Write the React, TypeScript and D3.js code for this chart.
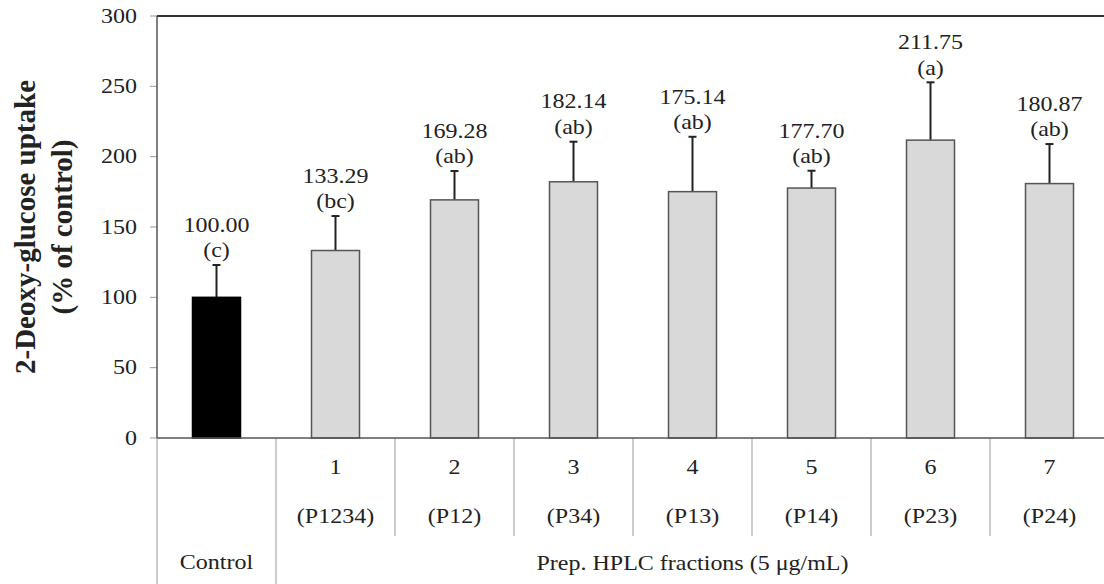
import React from "react";
import * as d3 from "d3";

// Fractions and their measured uptake (% of control) with SD
const categories = ["Control", "1", "2", "3", "4", "5", "6", "7"];
const fractionCodes = ["", "(P1234)", "(P12)", "(P34)", "(P13)", "(P14)", "(P23)", "(P24)"];
const means = [100.0, 133.29, 169.28, 182.14, 175.14, 177.7, 211.75, 180.87];
const sds = [23.0, 24.5, 20.5, 28.5, 39.0, 12.3, 41.1, 28.1];
const groups = ["(c)", "(bc)", "(ab)", "(ab)", "(ab)", "(ab)", "(a)", "(ab)"];
const yTicks = [0, 50, 100, 150, 200, 250, 300];

const W = 1104;
const H = 584;
const left = 157;
const right = 1109;
const top = 16;
const bottom = 438;
const barW = 48;
const SX = 1.2; // horizontal glyph stretch of the serif labels

const font = '"Liberation Serif", "Times New Roman", Times, "DejaVu Serif", serif';
const ink = "#222";

function Label({ x, y, text, size = 20, anchor = "middle" }: { x: number; y: number; text: string; size?: number; anchor?: string }) {
  return (
    <text
      transform={`translate(${x},${y}) scale(${SX},1)`}
      textAnchor={anchor as any}
      dominantBaseline="central"
      style={{ fontFamily: font, fontSize: size }}
      fill={ink}
    >
      {text}
    </text>
  );
}

export default function App() {
  const x = d3.scaleBand<string>().domain(categories).range([left, right]).paddingInner(0).paddingOuter(0);
  const y = d3.scaleLinear().domain([0, 300]).range([bottom, top]);
  const bw = x.bandwidth();
  const midY = (top + bottom) / 2;

  return (
    <svg width={W} height={H} style={{ position: "absolute", left: 0, top: 0, background: "#fff", fontFamily: font }}>
      {/* y axis title */}
      <g style={{ fontFamily: font, fontWeight: "bold", fontSize: 29 }} fill={ink} textAnchor="middle">
        <text transform={`translate(35,${midY}) rotate(-90)`}>2-Deoxy-glucose uptake</text>
        <text transform={`translate(72,${midY}) rotate(-90)`}>(% of control)</text>
      </g>

      {/* y ticks */}
      {yTicks.map((t) => (
        <g key={t}>
          <line x1={150} x2={left} y1={y(t)} y2={y(t)} stroke="#999" strokeWidth={1} />
          <Label x={137} y={y(t)} text={String(t)} anchor="end" />
        </g>
      ))}

      {/* table grid under the plot */}
      <line x1={left} x2={left} y1={bottom} y2={H} stroke="#aaa" strokeWidth={1.2} />
      {categories.slice(1).map((c, i) => (
        <line
          key={c}
          x1={x(c)!}
          x2={x(c)!}
          y1={bottom}
          y2={i === 0 ? H : 536}
          stroke="#aaa"
          strokeWidth={1.2}
        />
      ))}

      {/* bars with SD whiskers and significance letters */}
      {categories.map((c, i) => {
        const cx = x(c)! + bw / 2;
        const errTop = y(means[i] + sds[i]);
        return (
          <g key={c}>
            <line x1={cx} x2={cx} y1={y(means[i])} y2={errTop} stroke="#222" strokeWidth={2} />
            <line x1={cx - 4} x2={cx + 4} y1={errTop} y2={errTop} stroke="#222" strokeWidth={2} />
            <rect
              x={cx - barW / 2}
              y={y(means[i])}
              width={barW}
              height={y(0) - y(means[i])}
              fill={i === 0 ? "#000" : "#d9d9d9"}
              stroke={i === 0 ? "#000" : "#555"}
              strokeWidth={1.5}
            />
            <Label x={cx} y={errTop - 40} text={means[i].toFixed(2)} />
            <Label x={cx} y={errTop - 14.5} text={groups[i]} />
          </g>
        );
      })}

      {/* plot frame */}
      <line x1={left} x2={left} y1={top} y2={bottom} stroke="#555" strokeWidth={1.5} />
      <line x1={left} x2={W} y1={top} y2={top} stroke="#333" strokeWidth={2} />
      <line x1={left} x2={W} y1={bottom} y2={bottom} stroke="#555" strokeWidth={1.5} />

      {/* table text */}
      {categories.map((c, i) => {
        const cx = x(c)! + bw / 2;
        if (i === 0) return <Label key={c} x={cx} y={562} text="Control" />;
        return (
          <g key={c}>
            <Label x={cx} y={467} text={c} />
            <Label x={cx} y={516} text={fractionCodes[i]} />
          </g>
        );
      })}
      <Label x={(x("1")! + right) / 2} y={563} text="Prep. HPLC fractions (5 μg/mL)" />
    </svg>
  );
}
